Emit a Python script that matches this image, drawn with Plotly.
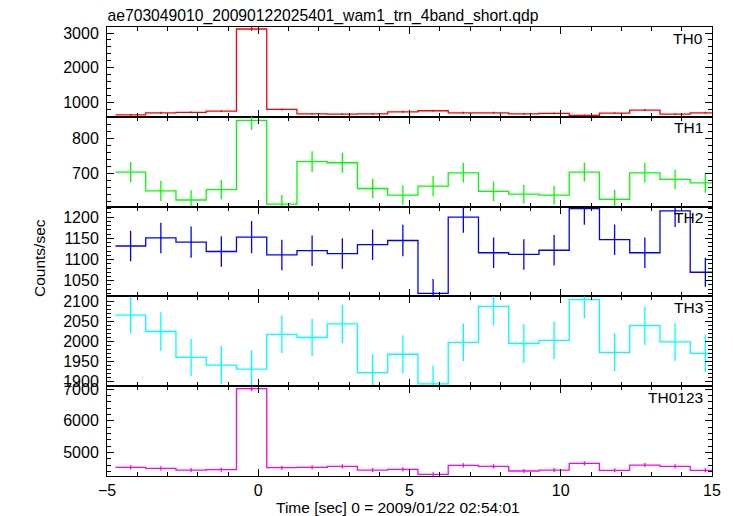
import plotly.graph_objects as go
from plotly.subplots import make_subplots

# bin centres (s), 1-s bins
time_centers = [-4.22, -3.22, -2.22, -1.22, -0.22, 0.78, 1.78, 2.78, 3.78, 4.78,
                5.78, 6.78, 7.78, 8.78, 9.78, 10.78, 11.78, 12.78, 13.78, 14.78]
bin_half = 0.5

th0 = [641, 699, 709, 748, 3117, 796, 670, 660, 670, 728,
       757, 699, 699, 670, 680, 621, 689, 777, 660, 699]
th0_err = [26, 27, 27, 27, 56, 28, 26, 26, 26, 27,
           27, 27, 27, 26, 26, 25, 26, 28, 26, 27]

th1 = [703, 649, 623, 653, 852, 611, 733, 730, 656, 637,
       663, 701, 648, 640, 637, 703, 625, 701, 682, 672]
th1_err = [29, 29, 28, 28, 27, 26, 30, 29, 28, 28,
           29, 28, 28, 27, 27, 27, 27, 28, 28, 28]

th2 = [1132, 1151, 1141, 1119, 1153, 1111, 1121, 1114, 1135, 1145,
       1020, 1200, 1116, 1112, 1122, 1220, 1147, 1116, 1215, 1070]
th2_err = [36, 36, 37, 36, 38, 36, 36, 36, 36, 37,
           34, 37, 36, 36, 36, 38, 36, 36, 38, 34]

th3 = [2065, 2024, 1959, 1940, 1930, 2017, 2009, 2043, 1921, 1967,
       1893, 1997, 2087, 1994, 2002, 2104, 1972, 2039, 1998, 1969]
th3_err = [46, 48, 47, 47, 47, 47, 47, 48, 46, 47,
           46, 47, 47, 48, 47, 47, 47, 48, 47, 47]

th0123 = [4526, 4495, 4442, 4453, 7021, 4516, 4526, 4558, 4442, 4463,
          4305, 4590, 4558, 4411, 4442, 4653, 4432, 4600, 4558, 4432]
th0123_err = [65, 65, 64, 64, 85, 65, 65, 66, 64, 64,
              63, 66, 65, 64, 64, 66, 64, 66, 65, 64]

panel_names = ["TH0", "TH1", "TH2", "TH3", "TH0123"]
panel_values = [th0, th1, th2, th3, th0123]
panel_errors = [th0_err, th1_err, th2_err, th3_err, th0123_err]
panel_colors = ["#ff0000", "#00ff00", "#0000ff", "#00ffff", "#ff00ff"]
panel_ranges = [[583, 3175], [604, 862], [1013, 1225], [1887, 2112], [4253, 7095]]
panel_dtick = [1000, 100, 50, 50, 1000]
panel_minor = [200, 20, 10, 10, 200]

title_text = "ae703049010_20090122025401_wam1_trn_4band_short.qdp"
x_title = "Time [sec] 0 = 2009/01/22 02:54:01"
y_title = "Counts/sec"

FONT = "Liberation Sans, Arial, Helvetica, sans-serif"
OFF = 8  # page body margin of the html page
W, H = 733 - OFF, 516 - OFF
ML, MR, MT, MB = 107 - OFF, 21, 27 - OFF, 40
plot_w = W - ML - MR
plot_h = H - MT - MB

fig = make_subplots(rows=5, cols=1, shared_xaxes=True, vertical_spacing=0)

edges_x = [c - bin_half for c in time_centers] + [time_centers[-1] + bin_half]

for i, (name, vals, errs, color, yr, dt, mdt) in enumerate(
        zip(panel_names, panel_values, panel_errors, panel_colors,
            panel_ranges, panel_dtick, panel_minor), start=1):
    fig.add_trace(go.Scatter(
        x=edges_x, y=vals + [vals[-1]], mode="lines",
        line=dict(color=color, width=1.3, shape="hv"),
        showlegend=False, hoverinfo="skip"), row=i, col=1)
    fig.add_trace(go.Scatter(
        x=time_centers, y=vals, mode="markers",
        marker=dict(size=1, color=color),
        error_y=dict(type="data", array=errs, width=0, thickness=1.3, color=color),
        showlegend=False), row=i, col=1)
    fig.update_yaxes(range=yr, tick0=0, dtick=dt, ticks="inside", ticklen=7,
                     tickcolor="black", tickwidth=1, ticklabelstandoff=4,
                     minor=dict(dtick=mdt, tick0=0, ticks="inside", ticklen=4,
                                tickcolor="black", tickwidth=1, showgrid=False),
                     mirror="allticks", showline=True, linecolor="black", linewidth=1,
                     showgrid=False, zeroline=False, row=i, col=1)
    fig.update_xaxes(range=[-5, 15], tick0=0, dtick=5, ticks="inside", ticklen=7,
                     tickcolor="black", tickwidth=1,
                     minor=dict(dtick=1, tick0=0, ticks="inside", ticklen=4,
                                tickcolor="black", tickwidth=1, showgrid=False),
                     mirror="allticks", showline=True, linecolor="black", linewidth=1,
                     showgrid=False, zeroline=False, row=i, col=1)
    yref = "y domain" if i == 1 else f"y{i} domain"
    fig.add_annotation(text=name, xref="paper", yref=yref,
                       x=(705 - 107) / 605, y=1, yshift=-11,
                       xanchor="right", yanchor="middle", showarrow=False,
                       font=dict(family=FONT, size=15.5, color="black"))

fig.add_annotation(text=x_title, xref="paper", yref="paper",
                   x=(397.5 - 107) / 605, y=0, yshift=-31,
                   xanchor="center", yanchor="middle", showarrow=False,
                   font=dict(family=FONT, size=15.5, color="black"))
fig.add_annotation(text=y_title, xref="paper", yref="paper",
                   x=(40 - 107) / 605, y=1 - (258 - 27) / 449, textangle=-90,
                   xanchor="center", yanchor="middle", showarrow=False,
                   font=dict(family=FONT, size=15.5, color="black"))

fig.update_layout(
    width=W, height=H,
    margin=dict(l=ML, r=MR, t=MT, b=MB),
    paper_bgcolor="white", plot_bgcolor="white",
    font=dict(family=FONT, size=16, color="black"),
    title=dict(text=title_text, xref="container", yref="container",
               x=(107.5 - OFF) / W, xanchor="left",
               y=1 - (15.5 - OFF) / H, yanchor="middle",
               font=dict(family=FONT, size=15.7, color="black")),
    showlegend=False,
)

fig.write_html("out.html")
